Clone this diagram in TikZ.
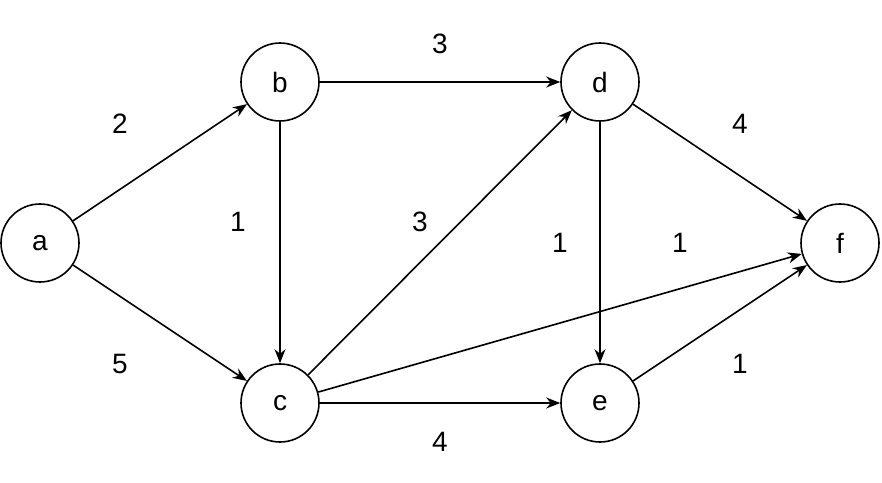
\documentclass[tikz,border=0pt]{standalone}
\usepackage{fontspec}
\setmainfont{Liberation Sans}
\usetikzlibrary{arrows.meta}
\begin{document}
\begin{tikzpicture}[x=1pt,y=-1pt,
  v/.style={circle,draw,line width=1.6pt,minimum size=78pt,inner sep=0pt,font=\fontsize{28}{32}\selectfont},
  e/.style={draw,line width=1.6pt,-{Stealth[length=14pt,width=11pt]}},
  w/.style={font=\fontsize{28}{32}\selectfont}]
\useasboundingbox (0,0) rectangle (882,482);
\node[v] (a) at (40,243) {a};
\node[v] (b) at (280,82) {b};
\node[v] (c) at (280,403) {c};
\node[v] (d) at (600,82) {d};
\node[v] (e) at (600,403) {e};
\node[v] (f) at (840,243) {f};
\draw[e] (a) -- (b);
\draw[e] (a) -- (c);
\draw[e] (b) -- (d);
\draw[e] (b) -- (c);
\draw[e] (c) -- (d);
\draw[e] (c) -- (f);
\draw[e] (c) -- (e);
\draw[e] (d) -- (e);
\draw[e] (d) -- (f);
\draw[e] (e) -- (f);
\node[w] (l1) at (120,124) {2};
\node[w] (l2) at (120,364) {5};
\node[w] (l3) at (440,44) {3};
\node[w] (l4) at (238,222) {1};
\node[w] (l5) at (420,222) {3};
\node[w] (l6) at (560,243) {1};
\node[w] (l7) at (680,243) {1};
\node[w] (l8) at (740,124) {4};
\node[w] (l9) at (740,364) {1};
\node[w] (l10) at (440,442) {4};
\end{tikzpicture}
\end{document}
